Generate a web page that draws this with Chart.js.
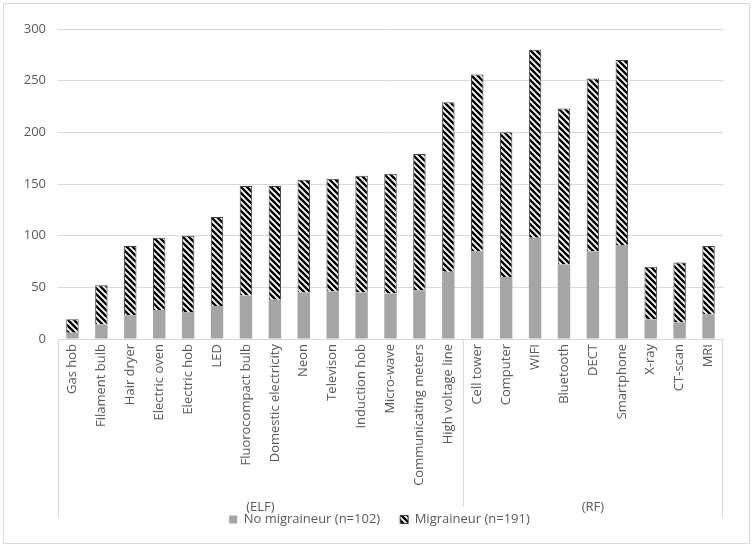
<!DOCTYPE html>
<html>
<head>
<meta charset="utf-8">
<script src="https://cdn.jsdelivr.net/npm/chart.js@4"></script>
<style>
  html, body { margin: 0; padding: 0; background: #ffffff; }
  #wrap { width: 753px; height: 547px; position: relative; }
</style>
</head>
<body>
<div id="wrap"><canvas id="c" width="753" height="547"></canvas></div>
<script>
const categories = ['Gas hob','Filament bulb','Hair dryer','Electric oven','Electric hob','LED','Fluorocompact bulb','Domestic electricity','Neon','Televison','Induction hob','Micro-wave','Communicating meters','High voltage line','Cell tower','Computer','WIFI','Bluetooth','DECT','Smartphone','X-ray','CT-scan','MRI'];
const noMigraineur = [6,14,23,28,26,32,42,38,45,46,45,44,47,65,85,60,98,72,85,91,19,16,24];
const migraineur = [13,38,67,70,74,86,106,110,109,109,113,116,132,164,171,140,182,151,167,179,51,58,66];
const seriesNames = ['No migraineur (n=102)', 'Migraineur (n=191)'];
const groupLabels = ['(ELF)', '(RF)'];
const groupSizes = [14, 9];
const yTicks = [0, 50, 100, 150, 200, 250, 300];

const TEXT = '#595959';
const GRID = '#d9d9d9';
const FONT = "'Open Sans', 'Noto Sans', sans-serif";

function hatch() {
  const s = 6;
  const c = document.createElement('canvas');
  c.width = s; c.height = s;
  const g = c.getContext('2d');
  g.fillStyle = '#ffffff';
  g.fillRect(0, 0, s, s);
  g.strokeStyle = '#000000';
  g.lineWidth = 2.4;
  g.beginPath();
  for (let k = -1; k <= 1; k++) {
    g.moveTo(-1, -1 + k * s);
    g.lineTo(s + 1, s + 1 + k * s);
  }
  g.stroke();
  return g.createPattern(c, 'repeat');
}

const framePlugin = {
  id: 'frame',
  afterLayout(chart) {
    // nudge the legend to sit where the original's legend sits
    if (chart.legend) {
      chart.legend.left -= 11;
      chart.legend.right -= 11;
    }
  },
  beforeDraw(chart) {
    const ctx = chart.ctx;
    ctx.save();
    ctx.strokeStyle = GRID;
    ctx.lineWidth = 1;
    ctx.strokeRect(3.5, 3.5, 746, 540);
    ctx.restore();
  },
  afterDraw(chart) {
    const ctx = chart.ctx;
    const x = chart.scales.x;
    const area = chart.chartArea;
    const half = (x.getPixelForValue(1) - x.getPixelForValue(0)) / 2;
    ctx.save();
    ctx.strokeStyle = GRID;
    ctx.lineWidth = 1;
    const lineBottom = 518;
    const sepBottom = 507;
    ctx.beginPath();
    ctx.moveTo(Math.round(area.left) + 0.5, area.bottom);
    ctx.lineTo(Math.round(area.left) + 0.5, lineBottom);
    ctx.moveTo(Math.round(area.right) - 0.5, area.bottom);
    ctx.lineTo(Math.round(area.right) - 0.5, lineBottom);
    ctx.stroke();
    ctx.fillStyle = TEXT;
    ctx.font = "13px " + FONT;
    ctx.textAlign = 'center';
    ctx.textBaseline = 'middle';
    let start = 0;
    groupSizes.forEach((n, gi) => {
      const end = start + n - 1;
      const l = x.getPixelForValue(start) - half;
      const r = x.getPixelForValue(end) + half;
      ctx.fillText(groupLabels[gi], (l + r) / 2, 507);
      if (gi < groupSizes.length - 1) {
        ctx.beginPath();
        ctx.moveTo(Math.round(r) + 0.5, area.bottom);
        ctx.lineTo(Math.round(r) + 0.5, sepBottom);
        ctx.stroke();
      }
      start += n;
    });
    ctx.restore();
  }
};

new Chart(document.getElementById('c'), {
  type: 'bar',
  data: {
    labels: categories,
    datasets: [
      {
        label: seriesNames[0],
        data: noMigraineur,
        backgroundColor: '#a5a5a5',
        borderWidth: 0,
        categoryPercentage: 1,
        barPercentage: 0.43
      },
      {
        label: seriesNames[1],
        data: migraineur,
        backgroundColor: hatch(),
        borderColor: '#404040',
        borderWidth: 1,
        categoryPercentage: 1,
        barPercentage: 0.43
      }
    ]
  },
  options: {
    responsive: false,
    animation: false,
    devicePixelRatio: 1,
    layout: { padding: { left: 0, right: 30, top: 29, bottom: 11 } },
    plugins: {
      legend: {
        position: 'bottom',
        fullSize: false,
        labels: {
          color: TEXT,
          font: { size: 13, family: FONT },
          boxWidth: 8,
          boxHeight: 8,
          padding: 20
        }
      },
      tooltip: { enabled: false },
      title: { display: false }
    },
    scales: {
      x: {
        stacked: true,
        grid: { display: false, drawTicks: false },
        border: { display: true, color: GRID },
        ticks: {
          color: TEXT,
          font: { size: 13, family: FONT },
          minRotation: 90,
          maxRotation: 90,
          autoSkip: false,
          padding: 5
        },
        afterFit(scale) { scale.height = 154; }
      },
      y: {
        stacked: true,
        min: 0,
        max: 300,
        afterBuildTicks(scale) { scale.ticks = yTicks.map(v => ({ value: v })); },
        grid: { color: GRID, drawTicks: false },
        border: { display: false },
        ticks: {
          color: TEXT,
          font: { size: 13, family: FONT },
          padding: 12
        },
        afterFit(scale) { scale.width = 58; }
      }
    }
  },
  plugins: [framePlugin]
});
</script>
</body>
</html>
